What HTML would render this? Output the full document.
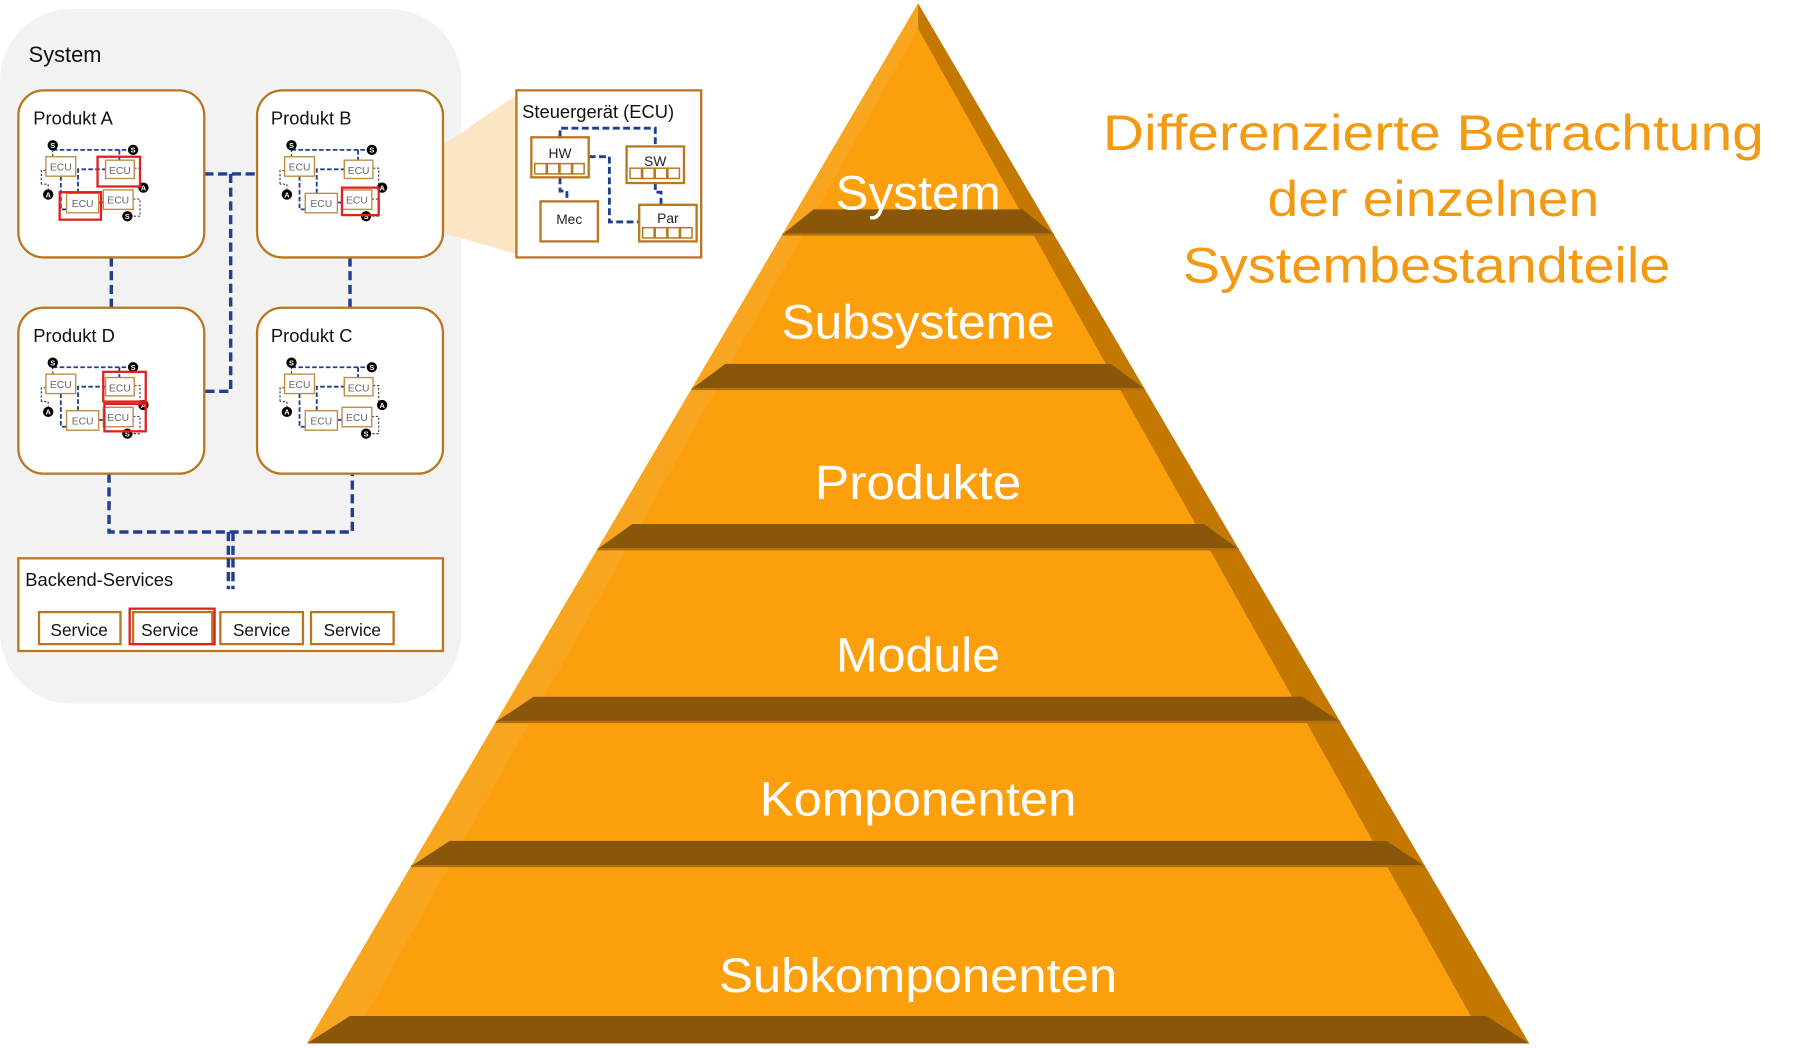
<!DOCTYPE html>
<html><head><meta charset="utf-8"><style>
html,body{margin:0;padding:0;background:#fff;}
svg{display:block;}
</style></head><body>
<svg width="1796" height="1048" viewBox="0 0 1565 916" preserveAspectRatio="none" xmlns="http://www.w3.org/2000/svg" font-family="Liberation Sans, sans-serif">
<defs>
<g id="mini">
  <g fill="none" stroke="#1F3F8F" stroke-width="1.6" stroke-dasharray="4,2">
    <path d="M30 52 H99"/>
    <path d="M88 52 V61"/>
    <path d="M37 75 V104 H42"/>
    <path d="M52 90 V69 H76"/>
    <path d="M70 98 H74"/>
  </g>
  <g fill="none" stroke="#444" stroke-width="1" stroke-dasharray="2,1.5">
    <path d="M30 52 V58"/>
    <path d="M24 70 H20 V82 M26 91 V82 H20"/>
    <path d="M101 68 H106 V85"/>
    <path d="M100 95 H106 V110 H94"/>
  </g>
  <g fill="#fff" stroke="#C28A45" stroke-width="1.2">
    <rect x="24" y="58" width="26" height="17"/>
    <rect x="76" y="61" width="25" height="16"/>
    <rect x="42" y="90" width="28" height="17"/>
    <rect x="74" y="87" width="26" height="17"/>
  </g>
  <g font-size="9" fill="#666" text-anchor="middle">
    <text x="37" y="70">ECU</text><text x="88.5" y="73">ECU</text>
    <text x="56" y="102">ECU</text><text x="87" y="99">ECU</text>
  </g>
  <g fill="#000"><circle cx="30" cy="48" r="4.5"/><circle cx="100" cy="52" r="4.5"/><circle cx="95" cy="110" r="4.5"/><circle cx="26" cy="91" r="4.5"/><circle cx="109" cy="85" r="4.5"/></g>
  <g fill="#fff" font-size="6.5" font-weight="bold" text-anchor="middle"><text x="30" y="50.5">S</text><text x="100" y="54.5">S</text><text x="95" y="112.5">S</text><text x="26" y="93.5">A</text><text x="109" y="87.5">A</text></g>
</g>
</defs>

<rect x="0" y="8" width="402" height="607" rx="62" fill="#F2F2F2"/>
<text x="25" y="54" font-size="19" fill="#111">System</text>

<polygon points="338,160 450,83 450,222 338,190" fill="#FCE5C4"/>

<g fill="none" stroke="#1F3F8F" stroke-width="3" stroke-dasharray="8,4">
  <path d="M178 152 H224"/>
  <path d="M201 152 V342 H178"/>
  <path d="M97 225 V269"/>
  <path d="M305 225 V269"/>
  <path d="M95 414 V465 H307 V414"/>
  <path d="M199 465 V515 M203 465 V515"/>
</g>

<g fill="#fff" stroke="#B8761F" stroke-width="2">
  <rect x="16" y="79" width="162" height="146" rx="22"/>
  <rect x="224" y="79" width="162" height="146" rx="22"/>
  <rect x="16" y="269" width="162" height="145" rx="22"/>
  <rect x="224" y="269" width="162" height="145" rx="22"/>
</g>
<g font-size="16" fill="#111">
  <text x="29" y="109">Produkt A</text>
  <text x="236" y="109">Produkt B</text>
  <text x="29" y="299">Produkt D</text>
  <text x="236" y="299">Produkt C</text>
</g>
<use href="#mini" x="16" y="79"/>
<use href="#mini" x="224" y="79"/>
<use href="#mini" x="16" y="269"/>
<use href="#mini" x="224" y="269"/>
<g fill="none" stroke="#E02020" stroke-width="2">
  <rect x="85" y="137" width="37" height="26"/>
  <rect x="52" y="168" width="36" height="24"/>
  <rect x="298" y="164" width="32" height="24"/>
  <rect x="90" y="325" width="37" height="26"/>
  <rect x="91" y="353" width="36" height="24"/>
</g>

<rect x="16" y="488" width="370" height="81" fill="#fff" stroke="#B8761F" stroke-width="2"/>
<path d="M199 488 V515 M203 488 V515" stroke="#1F3F8F" stroke-width="3" stroke-dasharray="8,4"/>
<text x="22" y="512" font-size="16" fill="#111">Backend-Services</text>
<g fill="#fff" stroke="#B8761F" stroke-width="2">
  <rect x="34" y="535" width="71" height="28"/>
  <rect x="192" y="535" width="72" height="28"/>
  <rect x="271" y="535" width="72" height="28"/>
  <rect x="116" y="535" width="69" height="28"/>
</g>
<rect x="113" y="532" width="74" height="31" fill="none" stroke="#E02020" stroke-width="2"/>
<g font-size="15" fill="#111" text-anchor="middle">
  <text x="69" y="556">Service</text><text x="148" y="556">Service</text><text x="228" y="556">Service</text><text x="307" y="556">Service</text>
</g>

<rect x="450" y="79" width="161" height="146" fill="#fff" stroke="#B8761F" stroke-width="2"/>
<text x="455" y="103" font-size="16" fill="#111">Steuergerät (ECU)</text>
<g fill="none" stroke="#1F3F8F" stroke-width="2.5" stroke-dasharray="6,3">
  <path d="M488 120 V112 H571 V128"/>
  <path d="M513 137 H531 V194 H557"/>
  <path d="M488 155 V167 H494 V176"/>
  <path d="M571 160 V168 H576 V179"/>
</g>
<g fill="#fff" stroke="#B8761F" stroke-width="2">
  <rect x="463" y="120" width="50" height="35"/>
  <rect x="546" y="128" width="50" height="32"/>
  <rect x="471" y="176" width="50" height="35"/>
  <rect x="557" y="179" width="50" height="32"/>
</g>
<g fill="#fff" stroke="#B8761F" stroke-width="1.3">
  <rect x="466" y="143" width="10" height="9"/><rect x="477" y="143" width="10" height="9"/><rect x="488" y="143" width="10" height="9"/><rect x="499" y="143" width="10" height="9"/>
  <rect x="549" y="147" width="10" height="9"/><rect x="560" y="147" width="10" height="9"/><rect x="571" y="147" width="10" height="9"/><rect x="582" y="147" width="10" height="9"/>
  <rect x="560" y="199" width="10" height="9"/><rect x="571" y="199" width="10" height="9"/><rect x="582" y="199" width="10" height="9"/><rect x="593" y="199" width="10" height="9"/>
</g>
<g font-size="12" fill="#222" text-anchor="middle">
  <text x="488" y="138">HW</text><text x="571" y="145">SW</text><text x="496" y="196">Mec</text><text x="582" y="195">Par</text>
</g>

<polygon points="800,3 267.5,912 1332.5,912" fill="#FBA00C"/>
<polygon points="800,3 267.5,912 305,912 800,25" fill="#F8A520"/>
<polygon points="800,3 1332.5,912 1295,912 800,25" fill="#C47800"/>
<g fill="#8A560A">
  <polygon points="709,183 891,183 918.3,205 681.7,205"/>
  <polygon points="632,318 968,318 997.4,340 602.6,340"/>
  <polygon points="551,458 1049,458 1079.4,480 520.6,480"/>
  <polygon points="465,609 1135,609 1167.9,631 432.1,631"/>
  <polygon points="392,735 1208,735 1241.7,757 358.3,757"/>
  <polygon points="305,888 1295,888 1332.5,912 267.5,912"/>
</g>
<g stroke="#B07012" stroke-width="2">
  <line x1="681.7" y1="205" x2="918.3" y2="205"/>
  <line x1="602.6" y1="340" x2="997.4" y2="340"/>
  <line x1="520.6" y1="480" x2="1079.4" y2="480"/>
  <line x1="432.1" y1="631" x2="1167.9" y2="631"/>
  <line x1="358.3" y1="757" x2="1241.7" y2="757"/>
</g>
<g fill="#fff" font-size="42" text-anchor="middle">
  <text x="800" y="183" textLength="144" lengthAdjust="spacingAndGlyphs">System</text>
  <text x="800" y="296" textLength="238" lengthAdjust="spacingAndGlyphs">Subsysteme</text>
  <text x="800" y="436" textLength="180" lengthAdjust="spacingAndGlyphs">Produkte</text>
  <text x="800" y="587" textLength="143" lengthAdjust="spacingAndGlyphs">Module</text>
  <text x="800" y="713" textLength="276" lengthAdjust="spacingAndGlyphs">Komponenten</text>
  <text x="800" y="867" textLength="347" lengthAdjust="spacingAndGlyphs">Subkomponenten</text>
</g>

<g fill="#F39A14" font-size="44" text-anchor="middle">
  <text x="1249" y="131" textLength="576" lengthAdjust="spacingAndGlyphs">Differenzierte Betrachtung</text>
  <text x="1249" y="189" textLength="289" lengthAdjust="spacingAndGlyphs">der einzelnen</text>
  <text x="1243" y="247" textLength="425" lengthAdjust="spacingAndGlyphs">Systembestandteile</text>
</g>
</svg>
</body></html>
